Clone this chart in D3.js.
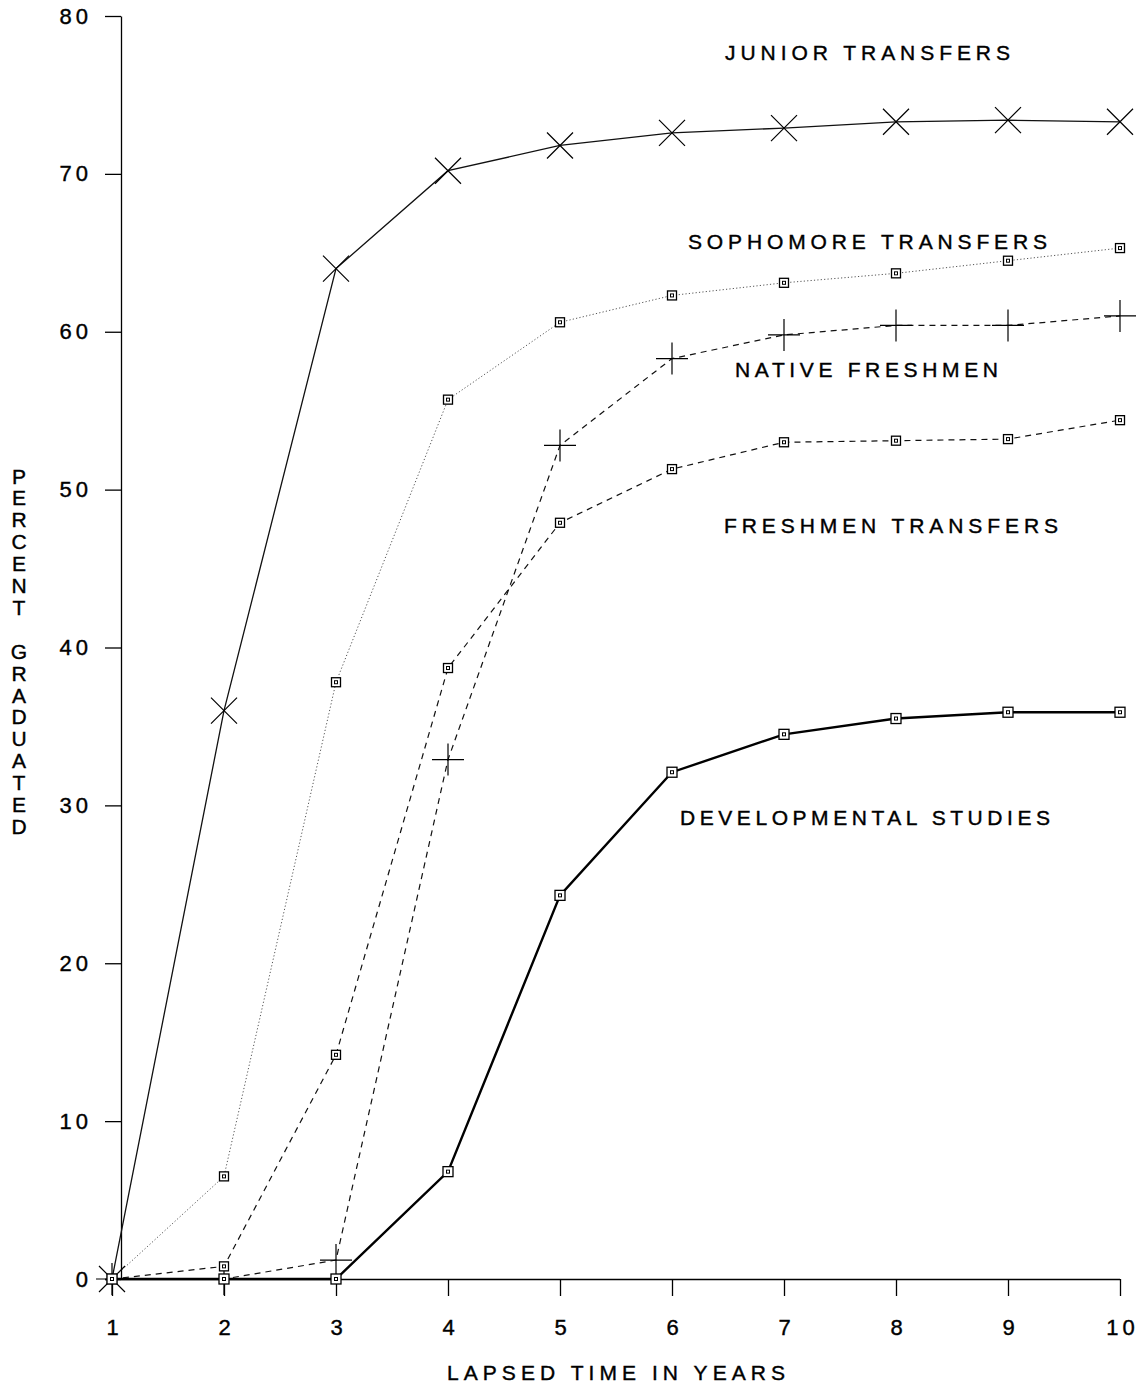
<!DOCTYPE html>
<html><head><meta charset="utf-8">
<script src="https://cdn.jsdelivr.net/npm/d3@7"></script>
<style>
html,body{margin:0;padding:0;background:#fff;}
svg{display:block;font-family:"Liberation Sans",Arial,Helvetica,sans-serif;}
</style></head>
<body>
<svg id="chart" width="1143" height="1386"></svg>
<script>
const years = [1,2,3,4,5,6,7,8,9,10];
const yTicks = [0,10,20,30,40,50,60,70,80];
const juniorTransfers    = [0, 36.0, 64.0, 70.2, 71.8, 72.6, 72.9, 73.3, 73.4, 73.3];
const sophomoreTransfers = [0, 6.5, 37.8, 55.7, 60.6, 62.3, 63.1, 63.7, 64.5, 65.3];
const nativeFreshmen     = [0, 0, 1.2, 32.9, 52.8, 58.3, 59.8, 60.4, 60.4, 61.0];
const freshmenTransfers  = [0, 0.8, 14.2, 38.7, 47.9, 51.3, 53.0, 53.1, 53.2, 54.4];
const developmental      = [0, 0, 0, 6.8, 24.3, 32.1, 34.5, 35.5, 35.9, 35.9];
const seriesNames = ["JUNIOR TRANSFERS","SOPHOMORE TRANSFERS","NATIVE FRESHMEN","FRESHMEN TRANSFERS","DEVELOPMENTAL STUDIES"];
const xTitle = "LAPSED TIME IN YEARS";
const yTitle = "PERCENT GRADUATED";

const svg = d3.select("#chart");
const x = d3.scaleLinear().domain([1,10]).range([112,1120]);
const y = d3.scaleLinear().domain([0,80]).range([1279,16]);

// axes
const yAxis = svg.append("g").attr("transform","translate(121,0)")
  .call(d3.axisLeft(y).tickValues(yTicks).tickSize(16).tickSizeOuter(0).tickPadding(13).tickFormat(d3.format("d")));
const xAxis = svg.append("g").attr("transform","translate(0,1279)")
  .call(d3.axisBottom(x).tickValues(years).tickSize(17).tickSizeOuter(0).tickPadding(23).tickFormat(d3.format("d")));
[yAxis,xAxis].forEach(a=>{
  a.selectAll("path,line").attr("stroke","#000").attr("stroke-width",1.3);
  a.selectAll("text").attr("fill","#000").attr("font-size",22).attr("letter-spacing",4)
   .attr("stroke","#000").attr("stroke-width",0.4)
   .attr("font-family","'Liberation Sans',Arial,sans-serif");
});
xAxis.selectAll("text").attr("dx",2);
xAxis.select(".domain").attr("d", `M105,0.5H${x(10)}`);

const series = [
  {name:seriesNames[0], values:juniorTransfers, dash:null, width:1.3, color:"#111", marker:"x"},
  {name:seriesNames[1], values:sophomoreTransfers, dash:"1.2,2.2", width:1, color:"#555", marker:"sq"},
  {name:seriesNames[2], values:nativeFreshmen, dash:"6,5", width:1.2, color:"#111", marker:"plus"},
  {name:seriesNames[3], values:freshmenTransfers, dash:"6,5", width:1.2, color:"#111", marker:"sq"},
  {name:seriesNames[4], values:developmental, dash:null, width:2.4, color:"#000", marker:"sq"}
];

const line = d3.line().x((d,i)=>x(years[i])).y(d=>y(d));
series.forEach(s=>{
  svg.append("path").datum(s.values).attr("d",line).attr("fill","none")
    .attr("stroke",s.color).attr("stroke-width",s.width)
    .attr("stroke-dasharray",s.dash);
  const g = svg.append("g");
  s.values.forEach((v,i)=>{
    const cx = x(years[i]), cy = y(v);
    if(s.marker==="x"){
      const r=13;
      g.append("path").attr("d",`M${cx-r},${cy-r}L${cx+r},${cy+r}M${cx-r},${cy+r}L${cx+r},${cy-r}`)
        .attr("stroke","#000").attr("stroke-width",1.2);
    } else if(s.marker==="plus"){
      const r=16;
      g.append("path").attr("d",`M${cx-r},${cy}L${cx+r},${cy}M${cx},${cy-r}L${cx},${cy+r}`)
        .attr("stroke","#000").attr("stroke-width",1.2);
    } else {
      const h = s.name===seriesNames[4]?5:4.5;
      g.append("rect").attr("x",cx-h).attr("y",cy-h).attr("width",2*h).attr("height",2*h)
        .attr("fill","#fff").attr("stroke","#000").attr("stroke-width",1.3);
      g.append("rect").attr("x",cx-1.5).attr("y",cy-1.5).attr("width",3).attr("height",3)
        .attr("fill","none").attr("stroke","#000").attr("stroke-width",1);
    }
  });
});

// series labels
const labelPos = [
  {x:725, y:60, w:285},
  {x:688, y:249, w:359},
  {x:735, y:377, w:263},
  {x:724, y:533, w:334},
  {x:680, y:825, w:370}
];
seriesNames.forEach((n,i)=>{
  svg.append("text").attr("x",labelPos[i].x).attr("y",labelPos[i].y)
    .attr("font-size",21).attr("fill","#000").attr("stroke","#000").attr("stroke-width",0.4)
    .attr("textLength",labelPos[i].w).attr("lengthAdjust","spacing").text(n);
});

// x title
svg.append("text").attr("x",447).attr("y",1380).attr("font-size",21)
  .attr("stroke","#000").attr("stroke-width",0.4)
  .attr("textLength",338).attr("lengthAdjust","spacing").text(xTitle);

// y title, stacked letters
const yt = svg.append("text").attr("font-size",21).attr("text-anchor","middle")
  .attr("stroke","#000").attr("stroke-width",0.4);
yTitle.split("").forEach((c,i)=>{
  yt.append("tspan").attr("x",19).attr("y",476+7.5+i*21.9).text(c===" "?"\u00a0":c);
});
</script>
</body></html>
